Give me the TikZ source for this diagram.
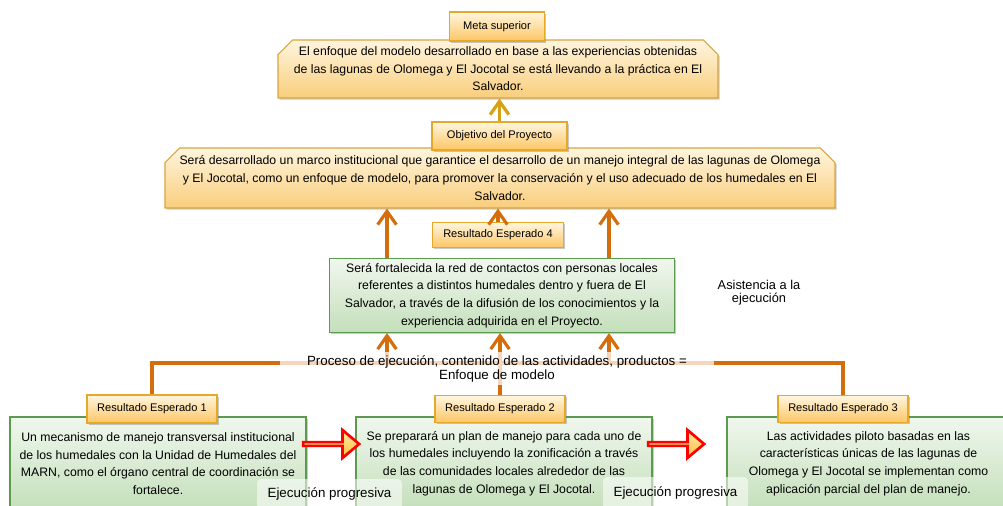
\documentclass[tikz,border=0pt]{standalone}
\usepackage{fontspec}
\setmainfont{Liberation Sans}
\usetikzlibrary{arrows.meta,shapes.misc,shapes.arrows,shadows}

\definecolor{flowcol}{RGB}{212,110,12}
\definecolor{goldcol}{RGB}{214,162,20}
\definecolor{labtop}{RGB}{255,246,224}
\definecolor{labbot}{RGB}{253,198,100}
\definecolor{labline}{RGB}{230,168,42}
\definecolor{goaltop}{RGB}{255,245,222}
\definecolor{goalbot}{RGB}{249,206,124}
\definecolor{goalline}{RGB}{218,165,62}
\definecolor{restop}{RGB}{240,247,238}
\definecolor{resbot}{RGB}{196,223,186}
\definecolor{resline}{RGB}{92,154,80}

\begin{document}
\begin{tikzpicture}[
        x=0.75pt, y=-0.75pt,
        every node/.style={color=black, align=center, inner sep=0pt,
            font=\fontsize{9.2}{13.2}\selectfont},
        box shadow/.style={drop shadow={shadow xshift=1.3pt, shadow yshift=-1.3pt,
            opacity=0.35, fill=black!60}},
        label box/.style={draw=labline, line width=0.8pt, top color=labtop,
            bottom color=labbot, box shadow, font=\fontsize{8.3}{10}\selectfont},
        goal box/.style={chamfered rectangle, chamfered rectangle corners={north west,north east},
            chamfered rectangle xsep=6pt, chamfered rectangle ysep=5pt,
            draw=goalline, line width=0.8pt, top color=goaltop, bottom color=goalbot, box shadow},
        result box/.style={draw=resline, line width=0.8pt, top color=restop,
            bottom color=resbot, box shadow},
        flow line/.style={draw=flowcol, line width=2.4pt},
        flow arrow/.style={flow line, -{Straight Barb[length=10pt,width=14pt]}},
        goal arrow/.style={draw=goldcol, line width=2.4pt, -{Straight Barb[length=10pt,width=14pt]}},
        step arrow/.style={single arrow, single arrow head extend=6.4pt, single arrow tip angle=80,
            minimum height=42pt, minimum width=21pt, draw=red, line width=2pt,
            top color=yellow!50!orange!35, bottom color=orange!65!yellow!75},
        tag/.style={fill=white, fill opacity=0.55, text opacity=1, rounded corners=3pt,
            font=\fontsize{10}{12}\selectfont}
    ]
    \useasboundingbox (0,0) rectangle (1003,506);

    % goals
    \node[goal box, minimum width=330pt, minimum height=43.5pt] (metabox) at (498,69)
        {El enfoque del modelo desarrollado en base a las experiencias obtenidas\\
         de las lagunas de Olomega y El Jocotal se está llevando a la práctica en El\\
         Salvador.};
    \node[goal box, minimum width=502.5pt, minimum height=45pt] (objbox) at (500,178)
        {Será desarrollado un marco institucional que garantice el desarrollo de un manejo integral de las lagunas de Olomega\\
         y El Jocotal, como un enfoque de modelo, para promover la conservación y el uso adecuado de los humedales en El\\
         Salvador.};

    % results
    \node[result box, minimum width=258.75pt, minimum height=55.5pt] (box4) at (502,295.5)
        {Será fortalecida la red de contactos con personas locales\\
         referentes a distintos humedales dentro y fuera de El\\
         Salvador, a través de la difusión de los conocimientos y la\\
         experiencia adquirida en el Proyecto.};
    \node[result box, minimum width=222pt, minimum height=69.75pt] (box1) at (158,463.5)
        {Un mecanismo de manejo transversal institucional\\
         de los humedales con la Unidad de Humedales del\\
         MARN, como el órgano central de coordinación se\\
         fortalece.};
    \node[result box, minimum width=222pt, minimum height=69.75pt] (box2) at (504,463.5)
        {Se preparará un plan de manejo para cada uno de\\
         los humedales incluyendo la zonificación a través\\
         de las comunidades locales alrededor de las\\
         lagunas de Olomega y El Jocotal.};
    \node[result box, minimum width=212.25pt, minimum height=69.75pt] (box3) at (868.5,463.5)
        {Las actividades piloto basadas en las\\
         características únicas de las lagunas de\\
         Olomega y El Jocotal se implementan como\\
         aplicación parcial del plan de manejo.};

    % labels
    \node[label box, minimum width=71.25pt, minimum height=21.75pt] (meta) at (497,26.5) {Meta superior};
    \node[label box, minimum width=101.25pt, minimum height=21pt] (objlabel) at (499.5,136) {Objetivo del Proyecto};
    \node[label box, minimum width=98.25pt, minimum height=18.75pt] (re4) at (498,235) {Resultado Esperado 4};
    \node[label box, minimum width=97.5pt, minimum height=21pt] (re1) at (152,409) {Resultado Esperado 1};
    \node[label box, minimum width=97.5pt, minimum height=20.25pt] (re2) at (500,409) {Resultado Esperado 2};
    \node[label box, minimum width=97.5pt, minimum height=20.25pt] (re3) at (843,409) {Resultado Esperado 3};

    % connectors
    \coordinate (procy) at (0,363);
    \coordinate (ja) at (387,0);
    \coordinate (jb) at (609,0);
    \draw[goal arrow] (objlabel.north) -- (objlabel.north |- metabox.south);
    \draw[flow arrow] (re4.north) -- (re4.north |- objbox.south);
    \draw[flow arrow] (ja |- box4.north) -- (ja |- objbox.south);
    \draw[flow arrow] (jb |- box4.north) -- (jb |- objbox.south);
    \draw[flow line] (re1.north) -- (re1.north |- procy) -| (re3.north);
    \draw[flow arrow] (ja |- procy) -- (ja |- box4.south);
    \draw[flow arrow] (jb |- procy) -- (jb |- box4.south);
    \draw[flow arrow] (re2.north) -- (re2.north |- box4.south);

    \node[fill=white, fill opacity=0.72, text opacity=1, minimum width=325pt, minimum height=24.75pt,
        font=\fontsize{10}{10.5}\selectfont] (proc) at (497,368.5)
        {Proceso de ejecución, contenido de las actividades, productos =\\ Enfoque de modelo};
    \node[font=\fontsize{9.6}{10}\selectfont] (asist) at (759,293) {Asistencia a la\\ ejecución};

    % progression
    \node[step arrow] (pa1) at (330,444) {};
    \node[step arrow] (pa2) at (675,444) {};
    \node[tag, minimum width=108.75pt, minimum height=22.5pt] (prog1) at (329.5,494) {Ejecución progresiva};
    \node[tag, minimum width=108.75pt, minimum height=24pt] (prog2) at (675.5,493) {Ejecución progresiva};
\end{tikzpicture}
\end{document}
